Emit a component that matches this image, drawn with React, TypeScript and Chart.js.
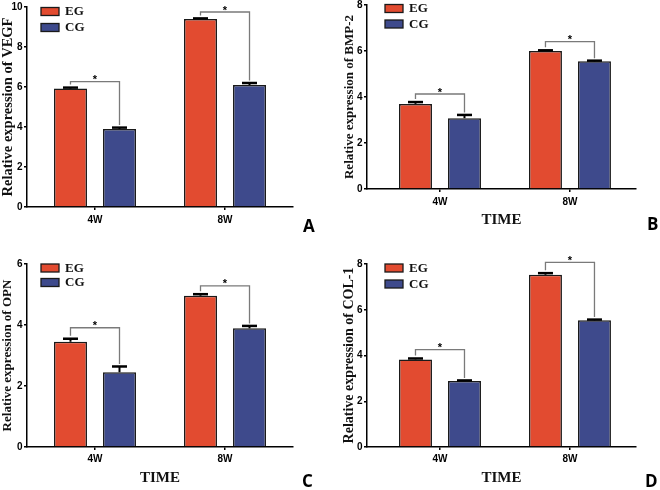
import React, { useEffect, useRef } from 'react';
import { Chart, registerables } from 'chart.js';

Chart.register(...registerables);

// ---------- data ----------
const categories = ['4W', '8W'];
const seriesNames = ['EG', 'CG'];
const seriesColors = ['#E24B30', '#3E4A8C'];

// VEGF (panel A)
const vegfEG = [5.92, 9.4];
const vegfEGErr = [0.05, 0.03];
const vegfCG = [3.9, 6.1];
const vegfCGErr = [0.07, 0.1];
const vegfSig = [6.27, 9.75];

// BMP-2 (panel B)
const bmpEG = [3.7, 6.0];
const bmpEGErr = [0.08, 0.03];
const bmpCG = [3.08, 5.55];
const bmpCGErr = [0.14, 0.03];
const bmpSig = [4.13, 6.41];

// OPN (panel C)
const opnEG = [3.45, 4.96];
const opnEGErr = [0.1, 0.05];
const opnCG = [2.45, 3.89];
const opnCGErr = [0.19, 0.08];
const opnSig = [3.91, 5.28];

// COL-1 (panel D)
const colEG = [3.83, 7.53];
const colEGErr = [0.04, 0.07];
const colCG = [2.88, 5.54];
const colCGErr = [0.03, 0.03];
const colSig = [4.26, 8.07];

const yMaxes = [10, 8, 6, 8];
const yTitles = [
  'Relative expression of VEGF',
  'Relative expression of BMP-2',
  'Relative expression of OPN',
  'Relative expression of COL-1',
];
const panelLetters = ['A', 'B', 'C', 'D'];
const xTitle = 'TIME';

// ---------- panel layout (styles only) ----------
type Panel = {
  eg: number[]; egErr: number[]; cg: number[]; cgErr: number[]; sig: number[];
  yMax: number; yTitle: string; letter: string; showX: boolean;
  left: number; top: number;
  pad: { left: number; top: number; right: number; bottom: number };
  yW: number; xH: number; xMin: number; xMax: number;
  yTitleSize: number; yTitlePad: number; xTickPad: number; xTitlePad: number;
  leg: { dx: number; dy: number; sp: number };
  letterPos: [number, number];
};

const panels: Panel[] = [
  {
    eg: vegfEG, egErr: vegfEGErr, cg: vegfCG, cgErr: vegfCGErr, sig: vegfSig,
    yMax: yMaxes[0], yTitle: yTitles[0], letter: panelLetters[0], showX: false,
    left: 0, top: 0, pad: { left: 0, top: 7, right: 37, bottom: 0 }, yW: 27, xH: 38,
    xMin: -0.523, xMax: 1.523, yTitleSize: 14.5, yTitlePad: 0, xTickPad: 4, xTitlePad: 0,
    leg: { dx: 14, dy: 0.5, sp: 16 }, letterPos: [303, 232],
  },
  {
    eg: bmpEG, egErr: bmpEGErr, cg: bmpCG, cgErr: bmpCGErr, sig: bmpSig,
    yMax: yMaxes[1], yTitle: yTitles[1], letter: panelLetters[1], showX: true,
    left: 330, top: 0, pad: { left: 0, top: 5, right: 24, bottom: 0 }, yW: 37, xH: 56,
    xMin: -0.5615, xMax: 1.508, yTitleSize: 13, yTitlePad: 11.5, xTickPad: 4, xTitlePad: 16,
    leg: { dx: 18, dy: -0.5, sp: 15.5 }, letterPos: [317, 230],
  },
  {
    eg: opnEG, egErr: opnEGErr, cg: opnCG, cgErr: opnCGErr, sig: opnSig,
    yMax: yMaxes[2], yTitle: yTitles[2], letter: panelLetters[2], showX: true,
    left: 0, top: 245, pad: { left: 0, top: 19, right: 37, bottom: 0 }, yW: 27, xH: 43,
    xMin: -0.523, xMax: 1.523, yTitleSize: 13, yTitlePad: 0, xTickPad: 3, xTitlePad: 3,
    leg: { dx: 14, dy: 0, sp: 14.5 }, letterPos: [302, 242],
  },
  {
    eg: colEG, egErr: colEGErr, cg: colCG, cgErr: colCGErr, sig: colSig,
    yMax: yMaxes[3], yTitle: yTitles[3], letter: panelLetters[3], showX: true,
    left: 330, top: 245, pad: { left: 0, top: 19, right: 24, bottom: 0 }, yW: 37, xH: 43,
    xMin: -0.5615, xMax: 1.508, yTitleSize: 14, yTitlePad: 10.5, xTickPad: 3, xTitlePad: 3,
    leg: { dx: 18, dy: 0, sp: 16 }, letterPos: [315, 242],
  },
];

const SERIF = '"Liberation Serif", "Times New Roman", serif';
const SANS = '"Liberation Sans", Arial, sans-serif';

function PanelChart({ p }: { p: Panel }) {
  const ref = useRef<HTMLCanvasElement | null>(null);

  useEffect(() => {
    if (!ref.current) return;
    const values = [p.eg, p.cg];
    const errs = [p.egErr, p.cgErr];

    const overlay = {
      id: 'overlay',
      afterDatasetsDraw(chart: any) {
        const ctx = chart.ctx;
        const y = chart.scales.y;
        const ca = chart.chartArea;
        ctx.save();
        // error bars (upper only)
        values.forEach((vals, di) => {
          const meta = chart.getDatasetMeta(di);
          meta.data.forEach((el: any, j: number) => {
            const yTop = y.getPixelForValue(vals[j] + errs[di][j]);
            ctx.strokeStyle = '#000';
            ctx.lineWidth = 2;
            ctx.beginPath();
            ctx.moveTo(el.x, el.y);
            ctx.lineTo(el.x, yTop);
            ctx.stroke();
            ctx.lineWidth = 2.5;
            ctx.beginPath();
            ctx.moveTo(el.x - 7.5, yTop);
            ctx.lineTo(el.x + 7.5, yTop);
            ctx.stroke();
          });
        });
        // significance brackets
        const m0 = chart.getDatasetMeta(0);
        const m1 = chart.getDatasetMeta(1);
        p.sig.forEach((s, j) => {
          const xl = m0.data[j].x;
          const xr = m1.data[j].x;
          const yb = y.getPixelForValue(s);
          const yl = y.getPixelForValue(p.eg[j] + p.egErr[j]) - 3;
          const yr = y.getPixelForValue(p.cg[j] + p.cgErr[j]) - 2.5;
          ctx.strokeStyle = '#7a7a7a';
          ctx.lineWidth = 1.3;
          ctx.beginPath();
          ctx.moveTo(xl, yl);
          ctx.lineTo(xl, yb);
          ctx.lineTo(xr, yb);
          ctx.lineTo(xr, yr);
          ctx.stroke();
          ctx.fillStyle = '#000';
          ctx.font = `bold 11px ${SANS}`;
          ctx.textAlign = 'center';
          ctx.textBaseline = 'alphabetic';
          ctx.fillText('*', (xl + xr) / 2, yb + 1.5);
        });
        // legend
        seriesNames.forEach((name, i) => {
          const rx = ca.left + p.leg.dx;
          const ry = ca.top + p.leg.dy + i * p.leg.sp;
          ctx.fillStyle = seriesColors[i];
          ctx.fillRect(rx, ry, 18, 8);
          ctx.strokeStyle = '#1a1a1a';
          ctx.lineWidth = 1.3;
          ctx.strokeRect(rx, ry, 18, 8);
          ctx.fillStyle = '#111';
          ctx.font = `bold 13px ${SERIF}`;
          ctx.textAlign = 'left';
          ctx.textBaseline = 'middle';
          ctx.fillText(name, rx + 24, ry + 4.5);
        });
        // panel letter
        ctx.fillStyle = '#000';
        ctx.font = `bold 17px "Open Sans", ${SANS}`;
        ctx.textAlign = 'left';
        ctx.textBaseline = 'alphabetic';
        ctx.fillText(p.letter, p.letterPos[0], p.letterPos[1]);
        ctx.restore();
      },
    };

    const tickFont = { family: SANS, size: 10, weight: 'bold' as const };

    const chart = new Chart(ref.current, {
      type: 'bar',
      data: {
        datasets: seriesNames.map((name, i) => ({
          label: name,
          data: categories.map((_, j) => ({ x: j, y: values[i][j] })),
          backgroundColor: seriesColors[i],
          borderColor: '#1a1a1a',
          borderWidth: 1.5,
          borderSkipped: 'bottom',
          categoryPercentage: 0.754,
          barPercentage: 0.673,
        })),
      },
      options: {
        animation: false,
        responsive: false,
        maintainAspectRatio: false,
        layout: { padding: p.pad },
        plugins: {
          legend: { display: false },
          tooltip: { enabled: false },
        },
        scales: {
          x: {
            type: 'linear',
            offset: false,
            min: p.xMin,
            max: p.xMax,
            afterBuildTicks: (s: any) => {
              s.ticks = categories.map((_, i) => ({ value: i }));
            },
            afterFit: (s: any) => {
              s.height = p.xH;
              s.paddingLeft = 0;
              s.paddingRight = 0;
            },
            ticks: {
              callback: (v: any) => categories[Number(v)],
              font: tickFont,
              color: '#000',
              padding: p.xTickPad,
              autoSkip: false,
              maxRotation: 0,
            },
            grid: {
              display: true,
              offset: false,
              drawOnChartArea: false,
              drawTicks: true,
              tickLength: 3,
              color: '#000',
              lineWidth: 1.5,
            },
            border: { display: true, color: '#000', width: 1.5 },
            title: {
              display: p.showX,
              text: xTitle,
              color: '#111',
              font: { family: SERIF, size: 15, weight: 'bold' },
              padding: { top: 0, bottom: p.xTitlePad },
            },
          },
          y: {
            min: 0,
            max: p.yMax,
            afterFit: (s: any) => {
              s.width = p.yW;
              s.paddingTop = 0;
              s.paddingBottom = 0;
            },
            ticks: {
              stepSize: 2,
              font: tickFont,
              color: '#000',
              padding: 1.5,
            },
            grid: {
              display: true,
              drawOnChartArea: false,
              drawTicks: true,
              tickLength: 3,
              color: '#000',
              lineWidth: 1.5,
            },
            border: { display: true, color: '#000', width: 1.5 },
            title: {
              display: true,
              text: p.yTitle,
              color: '#111',
              font: { family: SERIF, size: p.yTitleSize, weight: 'bold' },
              padding: { top: p.yTitlePad, bottom: 0 },
            },
          },
        },
      },
      plugins: [overlay],
    } as any);

    return () => chart.destroy();
  }, [p]);

  return (
    <div style={{ position: 'absolute', left: p.left, top: p.top, width: 330, height: 245 }}>
      <canvas ref={ref} width={330} height={245} style={{ display: 'block', width: 330, height: 245 }} />
    </div>
  );
}

export default function App() {
  return (
    <div style={{ position: 'absolute', left: 0, top: 0, width: 660, height: 490, background: '#fff' }}>
      {panels.map((p, i) => (
        <PanelChart key={i} p={p} />
      ))}
    </div>
  );
}
